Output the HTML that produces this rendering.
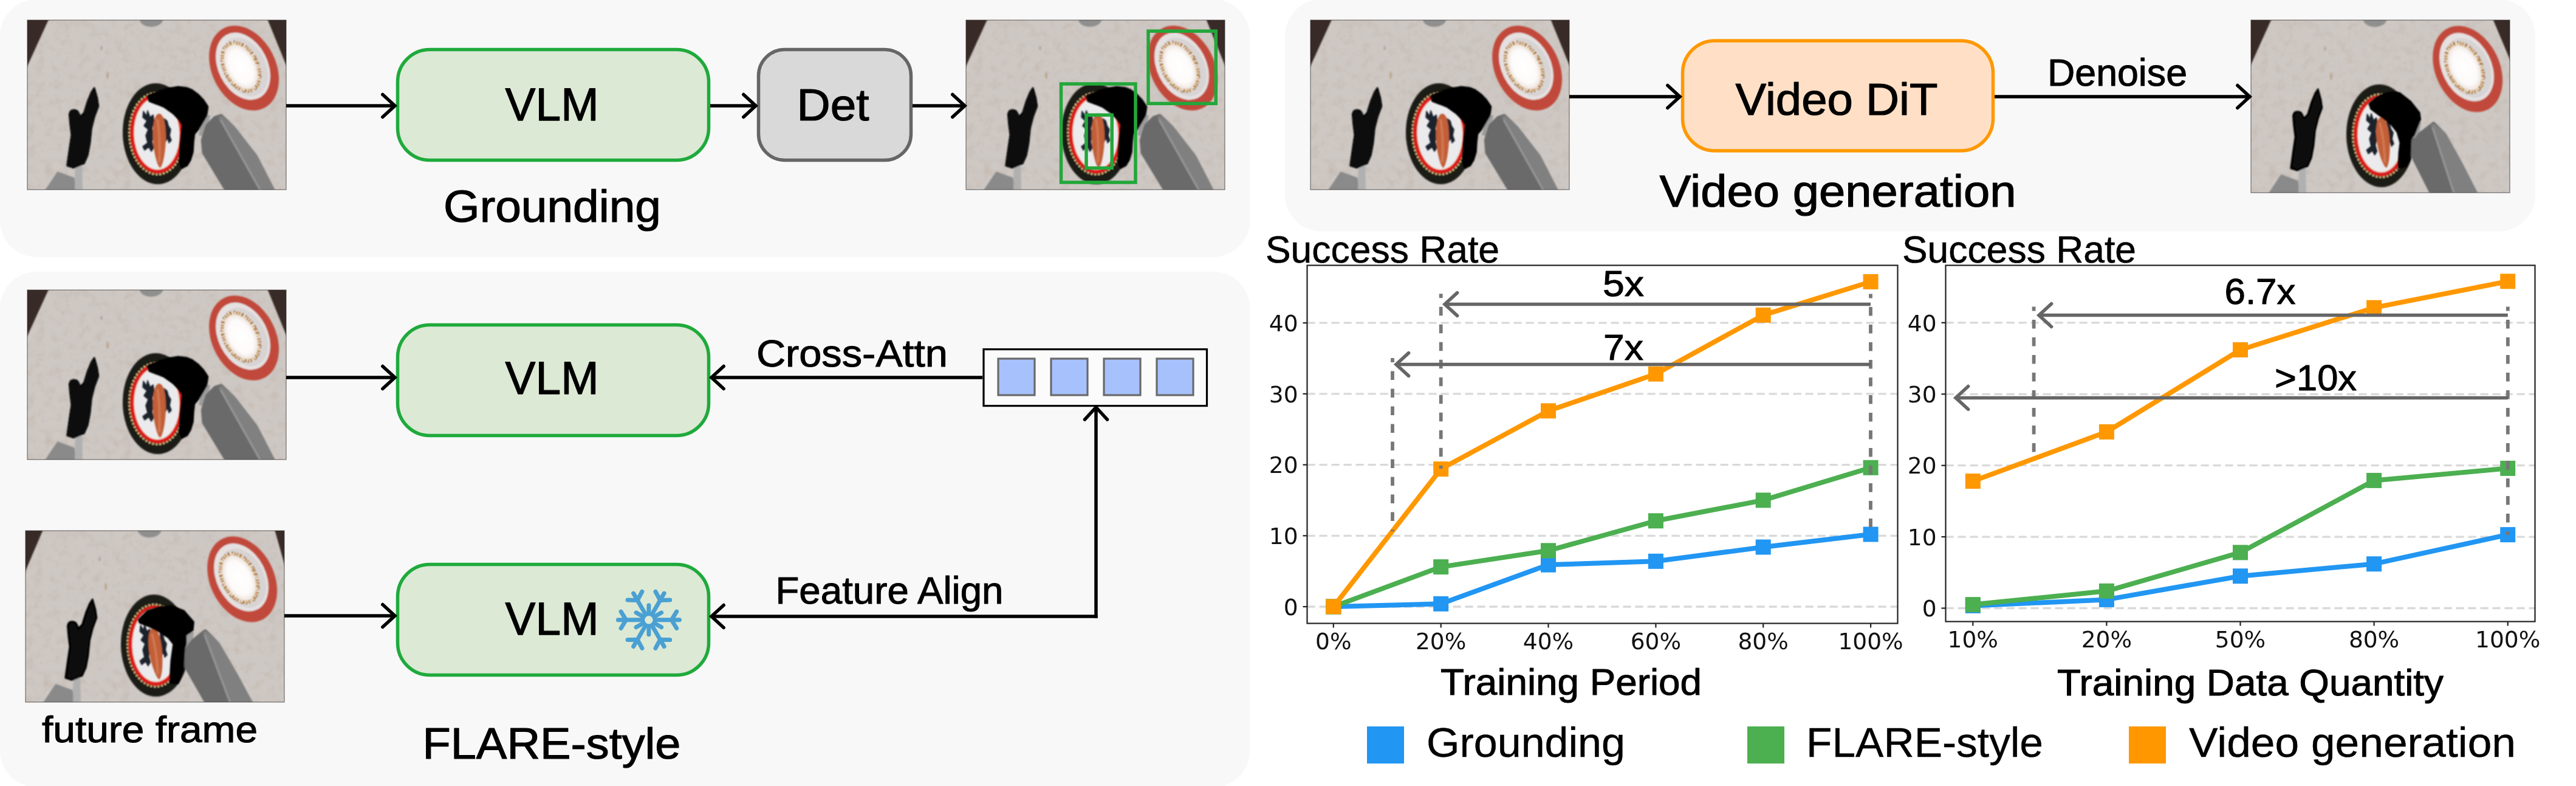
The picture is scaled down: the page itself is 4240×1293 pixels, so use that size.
<!DOCTYPE html>
<html lang="en"><head><meta charset="utf-8"><title>Figure</title>
<style>html,body{margin:0;padding:0;background:#fff}body{width:4240px;height:1293px;overflow:hidden}svg{display:block}text{white-space:pre}</style>
</head><body>
<svg width="4240" height="1293" viewBox="0 0 4240 1293">
<defs>
<filter id="soft" x="-5%" y="-5%" width="110%" height="110%"><feGaussianBlur stdDeviation="0.9"/></filter>
<filter id="grain" x="0" y="0" width="100%" height="100%">
  <feTurbulence type="fractalNoise" baseFrequency="0.07" numOctaves="3" seed="11" result="n"/>
  <feColorMatrix in="n" type="matrix" values="0 0 0 0 0.52  0 0 0 0 0.44  0 0 0 0 0.38  1.4 1.4 0 0 -1.25"/>
</filter>
<radialGradient id="glow" cx="50%" cy="50%" r="50%">
  <stop offset="0" stop-color="#ffffff"/><stop offset="0.75" stop-color="#fdfbfa"/><stop offset="1" stop-color="#efe6e0"/>
</radialGradient>
<clipPath id="cp"><rect x="0" y="0" width="426" height="279"/></clipPath>


<g id="sceneBase">
  <rect x="0" y="0" width="426" height="279" fill="#cec8c4"/>
  <rect x="0" y="0" width="426" height="279" filter="url(#grain)" opacity="0.5"/>
  <g filter="url(#soft)">
    <ellipse cx="204" cy="-1" rx="19" ry="12" fill="#8e8f8e"/>
    <ellipse cx="132" cy="91" rx="2.2" ry="6" fill="#b9a488" opacity="0.8"/>
    <ellipse cx="122" cy="46" rx="2" ry="3.5" fill="#aaa29f" opacity="0.8"/>
    <!-- red plate -->
    <g transform="translate(356.6 79) rotate(-27)">
      <ellipse rx="52.5" ry="73.5" fill="#c14a3b"/>
    </g>
    <g transform="translate(355 76) rotate(-27)">
      <ellipse rx="40.5" ry="58.5" fill="#e6e1e1"/>
      <ellipse cx="1.5" cy="2" rx="35" ry="51" fill="#d9d4d4"/>
    </g>
    <g transform="translate(351.5 77) rotate(-27)">
      <ellipse rx="29.5" ry="45" fill="#f1e7dd"/>
      <ellipse rx="27" ry="42" fill="none" stroke="#b9873f" stroke-width="5.5" stroke-dasharray="2.5 2 4 3 1.5 2.5 3 1.5"/>
      <ellipse rx="29" ry="44.5" fill="none" stroke="#8c5a2a" stroke-width="2" stroke-dasharray="2 5 3 7 1 4"/>
      <ellipse rx="23.5" ry="38.5" fill="url(#glow)"/>
    </g>
    <!-- black plate -->
    <g transform="translate(213 187) rotate(-2)">
      <ellipse rx="56" ry="83" fill="#1b1b19"/>
      <ellipse rx="45.3" ry="67" fill="none" stroke="#ecd08e" stroke-width="2.6" stroke-dasharray="3 3"/>
      <ellipse rx="44" ry="65.5" fill="#dc1f1a"/>
      <ellipse rx="37.8" ry="59.2" fill="#f3dcc8"/>
      <ellipse rx="36.5" ry="58" fill="#ebebed"/>
    </g>
    <!-- left gripper -->
    <path d="M30,281 L50,251 L76,260.5 L80,281 Z" fill="#8a8a8a" stroke="#8a8a8a" stroke-width="3" stroke-linejoin="round"/>
    <path d="M79,234 L90,230 L91,281 L78,281 Z" fill="#b0b0b0"/>
    <path d="M110.2,111.5 L115,128.4 L117,141.7 L110.2,159.8 L105.4,179.1 L103,203.3 L99.3,222.6 L93.3,235.9 L76.4,243.1 L65.5,239.5 L69.2,212.9 L72.8,188.8 L70.4,169.5 L69.2,155 Q70,148 76.4,147.7 Q82,148 83.6,151.3 L87.3,158.6 L93.3,152.6 L99.3,133.2 L105.4,118.7 Z" fill="#070707" stroke="#070707" stroke-width="2.5" stroke-linejoin="round"/>
  </g>
</g>

<g id="poseA" filter="url(#soft)"><path d="M191.0,150.0 L196.0,158.0 L198.0,149.0 L202.0,160.0 L207.0,156.0 L209.0,168.0 L205.0,178.0 L208.0,190.0 L205.0,200.0 L208.0,210.0 L204.0,216.0 L200.0,209.0 L193.0,214.0 L190.0,208.0 L198.0,202.0 L195.0,190.0 L199.0,180.0 L192.0,174.0 L197.0,166.0 L190.0,160.0 Z" fill="#1a202c" stroke="#1a202c" stroke-width="1.5" stroke-linejoin="round"/><path d="M225.0,162.0 L230.0,166.0 L232.0,174.0 L236.0,180.0 L234.0,190.0 L237.0,198.0 L233.0,202.0 L231.0,194.0 L227.0,200.0 L225.0,186.0 Z" fill="#1a202c" stroke="#1a202c" stroke-width="1.5" stroke-linejoin="round"/><g transform="translate(217 198.5) rotate(0)"><path d="M0,-44.5 C8,-44.5 11.5,-24.5 11,-4.5 C10.5,20.0 6,42.3 1.5,44.5 C-3,42.3 -9.5,17.8 -10.5,-4.5 C-11,-24.5 -8,-44.5 0,-44.5 Z" fill="#c15f39"/><path d="M-3,-35.6 C1,-13.3 1,13.3 0,35.6" stroke="#d8825a" stroke-width="4" fill="none" opacity="0.7"/></g><path d="M291.0,154.0 L300.0,158.0 L292.0,192.0 L283.0,188.0 Z" fill="#9d9d9d" stroke="#9d9d9d" stroke-width="2" stroke-linejoin="round"/><path d="M296.7,173.9 L309.6,161.0 L318.8,158.2 L339.0,177.6 L376.0,225.5 L406.0,284.0 L331.0,284.0 L291.0,218.0 L289.3,197.9 Z" fill="#6b6b6b" stroke="#6b6b6b" stroke-width="7" stroke-linejoin="round"/><path d="M319.0,161.0 L339.0,177.6 L376.0,225.5 L406.0,284.0 L388.7,284.0 Z" fill="#808080" stroke="#808080" stroke-width="7" stroke-linejoin="round"/><line x1="318" y1="164" x2="385.7" y2="284" stroke="#969696" stroke-width="3"/><path d="M199.0,125.0 L218.2,117.0 L235.0,112.5 L248.3,110.3 L262.0,112.0 L270.8,115.5 L281.0,123.0 L289.5,132.0 L296.5,142.5 L294.5,157.0 L281.5,179.0 L274.5,187.2 L273.0,200.0 L272.0,217.0 L268.0,230.0 L262.5,239.0 L254.5,243.0 L251.0,232.0 L252.0,217.0 L253.0,202.0 L256.0,172.0 L250.0,163.0 L240.0,153.0 L226.0,143.0 L214.0,138.0 L201.0,133.0 Z" fill="#060606" stroke="#060606" stroke-width="3.5" stroke-linejoin="round"/></g>
<g id="poseB" filter="url(#soft)"><path d="M191.3,152.0 L196.1,160.0 L197.9,151.0 L201.8,162.0 L206.5,158.0 L208.4,170.0 L204.6,180.0 L207.4,192.0 L204.6,202.0 L207.4,212.0 L203.7,218.0 L199.8,211.0 L193.2,216.0 L190.3,210.0 L197.9,204.0 L195.1,192.0 L198.9,182.0 L192.2,176.0 L197.0,168.0 L190.3,162.0 Z" fill="#1a202c" stroke="#1a202c" stroke-width="1.5" stroke-linejoin="round"/><path d="M223.6,164.0 L228.3,168.0 L230.2,176.0 L234.1,182.0 L232.2,192.0 L235.0,200.0 L231.2,204.0 L229.3,196.0 L225.5,202.0 L223.6,188.0 Z" fill="#1a202c" stroke="#1a202c" stroke-width="1.5" stroke-linejoin="round"/><g transform="translate(217.7 198) rotate(-5)"><path d="M0,-41 C8,-41 11.5,-22.6 11,-4.1 C10.5,18.4 6,38.9 1.5,41 C-3,38.9 -9.5,16.4 -10.5,-4.1 C-11,-22.6 -8,-41 0,-41 Z" fill="#c15f39"/><path d="M-3,-32.8 C1,-12.3 1,12.3 0,32.8" stroke="#d8825a" stroke-width="4" fill="none" opacity="0.7"/></g><path d="M269.0,161.0 L279.0,165.0 L275.0,193.0 L265.0,189.0 Z" fill="#9d9d9d" stroke="#9d9d9d" stroke-width="2" stroke-linejoin="round"/><path d="M273.0,192.0 L277.5,185.5 L300.4,168.0 L318.2,185.5 L346.2,235.4 L371.5,284.0 L300.0,284.0 L267.3,220.4 L266.0,195.5 Z" fill="#6b6b6b" stroke="#6b6b6b" stroke-width="7" stroke-linejoin="round"/><path d="M300.0,171.0 L318.2,185.5 L346.2,235.4 L371.5,284.0 L338.5,284.0 Z" fill="#808080" stroke="#808080" stroke-width="7" stroke-linejoin="round"/><line x1="299" y1="174" x2="335.5" y2="284" stroke="#969696" stroke-width="3"/><path d="M196.0,135.5 L207.0,127.0 L219.0,120.4 L232.0,118.0 L244.4,119.2 L262.2,133.0 L276.2,150.5 L277.5,160.4 L267.3,185.5 L262.0,190.5 L261.0,210.0 L259.7,225.4 L254.6,235.4 L244.4,237.9 L245.0,215.0 L247.0,198.0 L241.9,180.4 L232.0,168.0 L219.0,158.0 L198.6,143.0 Z" fill="#060606" stroke="#060606" stroke-width="5" stroke-linejoin="round"/></g>
<g id="poseC" filter="url(#soft)"><path d="M189.3,154.0 L194.1,162.0 L195.9,153.0 L199.8,164.0 L204.5,160.0 L206.4,172.0 L202.6,182.0 L205.4,194.0 L202.6,204.0 L205.4,214.0 L201.7,220.0 L197.8,213.0 L191.2,218.0 L188.3,212.0 L195.9,206.0 L193.1,194.0 L196.9,184.0 L190.2,178.0 L195.0,170.0 L188.3,164.0 Z" fill="#1a202c" stroke="#1a202c" stroke-width="1.5" stroke-linejoin="round"/><path d="M221.6,166.0 L226.3,170.0 L228.2,178.0 L232.1,184.0 L230.2,194.0 L233.0,202.0 L229.2,206.0 L227.3,198.0 L223.5,204.0 L221.6,190.0 Z" fill="#1a202c" stroke="#1a202c" stroke-width="1.5" stroke-linejoin="round"/><g transform="translate(214.3 200.5) rotate(-6)"><path d="M0,-42 C8,-42 11.5,-23.1 11,-4.2 C10.5,18.9 6,39.9 1.5,42 C-3,39.9 -9.5,16.8 -10.5,-4.2 C-11,-23.1 -8,-42 0,-42 Z" fill="#c15f39"/><path d="M-3,-33.6 C1,-12.6 1,12.6 0,33.6" stroke="#d8825a" stroke-width="4" fill="none" opacity="0.7"/></g><path d="M266.0,162.0 L276.0,166.0 L271.0,194.0 L261.0,190.0 Z" fill="#9d9d9d" stroke="#9d9d9d" stroke-width="2" stroke-linejoin="round"/><path d="M271.0,186.0 L276.7,179.2 L295.8,164.1 L316.1,184.2 L344.1,232.0 L372.5,284.0 L301.0,284.0 L265.2,222.0 L264.0,196.8 Z" fill="#6b6b6b" stroke="#6b6b6b" stroke-width="7" stroke-linejoin="round"/><path d="M296.0,167.0 L316.1,184.2 L344.1,232.0 L372.5,284.0 L341.5,284.0 Z" fill="#808080" stroke="#808080" stroke-width="7" stroke-linejoin="round"/><line x1="295" y1="170" x2="338.5" y2="284" stroke="#969696" stroke-width="3"/><path d="M187.6,145.2 L201.6,131.4 L220.0,126.0 L239.8,123.8 L260.1,131.4 L275.4,149.0 L274.1,161.6 L262.7,169.1 L262.7,184.2 L260.1,191.8 L259.0,210.0 L257.6,227.0 L250.0,247.1 L239.8,247.1 L240.0,228.0 L241.0,211.9 L244.9,184.2 L236.0,173.0 L222.0,164.1 L205.0,155.0 L188.9,149.0 Z" fill="#060606" stroke="#060606" stroke-width="5" stroke-linejoin="round"/></g></defs>
<rect width="4240" height="1293" fill="#fff"/>

<rect x="0" y="-1" width="2057.3" height="423.7" rx="60" fill="#f8f8f8"/>
<rect x="0" y="447" width="2057.3" height="848" rx="60" fill="#f8f8f8"/>
<rect x="2115" y="-1" width="2058" height="381.5" rx="60" fill="#f8f8f8"/>
<g transform="translate(45 33) scale(1.00000 1.00000)"><g clip-path="url(#cp)"><use href="#sceneBase"/><g filter="url(#soft)"><path d="M-2,-2 H35.5 L-2,80 Z" fill="#382925"/><path d="M428,-2 H395 L428,79 Z" fill="#382925"/></g><use href="#poseA"/></g><rect x="0" y="0" width="426" height="279" fill="none" stroke="#3a3432" stroke-width="1" opacity="0.8"/></g>
<g transform="translate(1590 33) scale(1.00000 1.00000)"><g clip-path="url(#cp)"><use href="#sceneBase"/><g filter="url(#soft)"><path d="M-2,-2 H35.5 L-2,80 Z" fill="#382925"/><path d="M428,-2 H395 L428,79 Z" fill="#382925"/></g><use href="#poseA"/><g fill="none" stroke="#22a73a" stroke-width="5.5"><rect x="156.5" y="105" width="122.5" height="162"/><rect x="198" y="156.2" width="42.2" height="87.2"/><rect x="300" y="18.2" width="111.3" height="119.1"/></g></g><rect x="0" y="0" width="426" height="279" fill="none" stroke="#3a3432" stroke-width="1" opacity="0.8"/></g>
<rect x="654.5" y="81.5" width="512" height="182" rx="53" fill="#dce9d5" stroke="#1faa3c" stroke-width="5.5"/>
<rect x="1248.5" y="81.5" width="251" height="182" rx="43" fill="#d9d9d9" stroke="#666" stroke-width="5.5"/>
<line x1="471" y1="174" x2="650.0" y2="174.0" stroke="#000" stroke-width="5.5"/><polyline points="629.8,155.5 650.0,174.0 629.8,192.5" fill="none" stroke="#000" stroke-width="5.5" stroke-linecap="round" stroke-linejoin="miter"/>
<line x1="1169" y1="174" x2="1244.0" y2="174.0" stroke="#000" stroke-width="5.5"/><polyline points="1223.8,155.5 1244.0,174.0 1223.8,192.5" fill="none" stroke="#000" stroke-width="5.5" stroke-linecap="round" stroke-linejoin="miter"/>
<line x1="1502" y1="174" x2="1588.0" y2="174.0" stroke="#000" stroke-width="5.5"/><polyline points="1567.8,155.5 1588.0,174.0 1567.8,192.5" fill="none" stroke="#000" stroke-width="5.5" stroke-linecap="round" stroke-linejoin="miter"/>
<text x="908.6" y="197.5" font-size="75.5" text-anchor="middle" style="font-family:'Liberation Sans',Arial,sans-serif" fill="#000" stroke="#000" stroke-width="1.25" stroke-linejoin="round" textLength="154" lengthAdjust="spacingAndGlyphs">VLM</text>
<text x="1371" y="198" font-size="74" text-anchor="middle" style="font-family:'Liberation Sans',Arial,sans-serif" fill="#000" stroke="#000" stroke-width="1.22" stroke-linejoin="round" textLength="119" lengthAdjust="spacingAndGlyphs">Det</text>
<text x="909" y="365" font-size="74" text-anchor="middle" style="font-family:'Liberation Sans',Arial,sans-serif" fill="#000" stroke="#000" stroke-width="1.22" stroke-linejoin="round" textLength="358" lengthAdjust="spacingAndGlyphs">Grounding</text>
<g transform="translate(45 477) scale(1.00000 1.00000)"><g clip-path="url(#cp)"><use href="#sceneBase"/><g filter="url(#soft)"><path d="M-2,-2 H35.5 L-2,80 Z" fill="#382925"/><path d="M428,-2 H395 L428,79 Z" fill="#382925"/></g><use href="#poseA"/></g><rect x="0" y="0" width="426" height="279" fill="none" stroke="#3a3432" stroke-width="1" opacity="0.8"/></g>
<g transform="translate(42 873) scale(1.00000 1.01075)"><g clip-path="url(#cp)"><use href="#sceneBase"/><g filter="url(#soft)"><path d="M-2,-2 H29 L-2,70 Z" fill="#382925"/><path d="M428,-2 H410 L428,61 Z" fill="#382925"/></g><use href="#poseC"/></g><rect x="0" y="0" width="426" height="279" fill="none" stroke="#3a3432" stroke-width="1" opacity="0.8"/></g>
<rect x="654.5" y="534.5" width="512" height="182" rx="53" fill="#dce9d5" stroke="#1faa3c" stroke-width="5.5"/>
<rect x="654.5" y="928.5" width="512" height="182" rx="53" fill="#dce9d5" stroke="#1faa3c" stroke-width="5.5"/>
<line x1="471" y1="621" x2="650.0" y2="621.0" stroke="#000" stroke-width="5.5"/><polyline points="629.8,602.5 650.0,621.0 629.8,639.5" fill="none" stroke="#000" stroke-width="5.5" stroke-linecap="round" stroke-linejoin="miter"/>
<line x1="468" y1="1013" x2="650.0" y2="1013.0" stroke="#000" stroke-width="5.5"/><polyline points="629.8,994.5 650.0,1013.0 629.8,1031.5" fill="none" stroke="#000" stroke-width="5.5" stroke-linecap="round" stroke-linejoin="miter"/>
<text x="908.6" y="647.5" font-size="75.5" text-anchor="middle" style="font-family:'Liberation Sans',Arial,sans-serif" fill="#000" stroke="#000" stroke-width="1.25" stroke-linejoin="round" textLength="154" lengthAdjust="spacingAndGlyphs">VLM</text>
<text x="908.6" y="1044" font-size="75.5" text-anchor="middle" style="font-family:'Liberation Sans',Arial,sans-serif" fill="#000" stroke="#000" stroke-width="1.25" stroke-linejoin="round" textLength="154" lengthAdjust="spacingAndGlyphs">VLM</text>
<rect x="1619" y="574.6" width="367.5" height="93" fill="#fbfbfb" stroke="#000" stroke-width="3.2"/>
<rect x="1643" y="590" width="60" height="60" fill="#a7c1fd" stroke="#6a6a6a" stroke-width="3.2"/>
<rect x="1730" y="590" width="60" height="60" fill="#a7c1fd" stroke="#6a6a6a" stroke-width="3.2"/>
<rect x="1817" y="590" width="60" height="60" fill="#a7c1fd" stroke="#6a6a6a" stroke-width="3.2"/>
<rect x="1904" y="590" width="60" height="60" fill="#a7c1fd" stroke="#6a6a6a" stroke-width="3.2"/>
<line x1="1617" y1="621" x2="1171.0" y2="621.0" stroke="#000" stroke-width="5.5"/><polyline points="1191.2,639.5 1171.0,621.0 1191.2,602.5" fill="none" stroke="#000" stroke-width="5.5" stroke-linecap="round" stroke-linejoin="miter"/>
<text x="1402.4" y="603" font-size="63" text-anchor="middle" style="font-family:'Liberation Sans',Arial,sans-serif" fill="#000" stroke="#000" stroke-width="1.04" stroke-linejoin="round" textLength="315" lengthAdjust="spacingAndGlyphs">Cross-Attn</text>
<polyline points="1804,1013 1804,1013" fill="none"/>
<line x1="1806.7" y1="1014" x2="1400" y2="1014" stroke="#000" stroke-width="5.5"/>
<line x1="1400" y1="1014" x2="1171.0" y2="1014.0" stroke="#000" stroke-width="5.5"/><polyline points="1191.2,1032.5 1171.0,1014.0 1191.2,995.5" fill="none" stroke="#000" stroke-width="5.5" stroke-linecap="round" stroke-linejoin="miter"/>
<line x1="1804" y1="1016.7" x2="1804.0" y2="670.0" stroke="#000" stroke-width="5.5"/><polyline points="1785.5,690.2 1804.0,670.0 1822.5,690.2" fill="none" stroke="#000" stroke-width="5.5" stroke-linecap="round" stroke-linejoin="miter"/>
<text x="1464" y="993" font-size="63" text-anchor="middle" style="font-family:'Liberation Sans',Arial,sans-serif" fill="#000" stroke="#000" stroke-width="1.04" stroke-linejoin="round" textLength="375" lengthAdjust="spacingAndGlyphs">Feature Align</text>
<text x="246.5" y="1221.3" font-size="62" text-anchor="middle" style="font-family:'Liberation Sans',Arial,sans-serif" fill="#000" stroke="#000" stroke-width="1.02" stroke-linejoin="round" textLength="355" lengthAdjust="spacingAndGlyphs">future frame</text>
<text x="908" y="1248" font-size="72.5" text-anchor="middle" style="font-family:'Liberation Sans',Arial,sans-serif" fill="#000" stroke="#000" stroke-width="1.20" stroke-linejoin="round" textLength="425" lengthAdjust="spacingAndGlyphs">FLARE-style</text>
<g transform="translate(1067.9 1019.8)" stroke="#4aa0d3" stroke-width="7" stroke-linecap="round" fill="none"><g transform="rotate(0)"><line x1="0" y1="0" x2="50.5" y2="0"/><polyline points="45.8,-13.7 37.4,0 45.8,13.7"/></g><g transform="rotate(30)"><line x1="0" y1="0" x2="24" y2="0"/></g><g transform="rotate(60)"><line x1="0" y1="0" x2="50.5" y2="0"/><polyline points="45.8,-13.7 37.4,0 45.8,13.7"/></g><g transform="rotate(90)"><line x1="0" y1="0" x2="24" y2="0"/></g><g transform="rotate(120)"><line x1="0" y1="0" x2="50.5" y2="0"/><polyline points="45.8,-13.7 37.4,0 45.8,13.7"/></g><g transform="rotate(150)"><line x1="0" y1="0" x2="24" y2="0"/></g><g transform="rotate(180)"><line x1="0" y1="0" x2="50.5" y2="0"/><polyline points="45.8,-13.7 37.4,0 45.8,13.7"/></g><g transform="rotate(210)"><line x1="0" y1="0" x2="24" y2="0"/></g><g transform="rotate(240)"><line x1="0" y1="0" x2="50.5" y2="0"/><polyline points="45.8,-13.7 37.4,0 45.8,13.7"/></g><g transform="rotate(270)"><line x1="0" y1="0" x2="24" y2="0"/></g><g transform="rotate(300)"><line x1="0" y1="0" x2="50.5" y2="0"/><polyline points="45.8,-13.7 37.4,0 45.8,13.7"/></g><g transform="rotate(330)"><line x1="0" y1="0" x2="24" y2="0"/></g><circle r="9.5" stroke-width="5.5" fill="#dce9d5"/></g>
<g transform="translate(2157 33) scale(1.00000 1.00000)"><g clip-path="url(#cp)"><use href="#sceneBase"/><g filter="url(#soft)"><path d="M-2,-2 H35.5 L-2,80 Z" fill="#382925"/><path d="M428,-2 H395 L428,79 Z" fill="#382925"/></g><use href="#poseA"/></g><rect x="0" y="0" width="426" height="279" fill="none" stroke="#3a3432" stroke-width="1" opacity="0.8"/></g>
<g transform="translate(3705 33) scale(1.00000 1.01792)"><g clip-path="url(#cp)"><use href="#sceneBase"/><g filter="url(#soft)"><path d="M-2,-2 H34 L-2,76 Z" fill="#382925"/><path d="M428,-2 H398 L428,68 Z" fill="#382925"/></g><use href="#poseB"/></g><rect x="0" y="0" width="426" height="279" fill="none" stroke="#3a3432" stroke-width="1" opacity="0.8"/></g>
<rect x="2769.5" y="67" width="511" height="181" rx="53" fill="#ffe0c6" stroke="#ff9800" stroke-width="5.5"/>
<line x1="2583" y1="159" x2="2765.0" y2="159.0" stroke="#000" stroke-width="5.5"/><polyline points="2744.8,140.5 2765.0,159.0 2744.8,177.5" fill="none" stroke="#000" stroke-width="5.5" stroke-linecap="round" stroke-linejoin="miter"/>
<line x1="3283" y1="159" x2="3703.0" y2="159.0" stroke="#000" stroke-width="5.5"/><polyline points="3682.8,140.5 3703.0,159.0 3682.8,177.5" fill="none" stroke="#000" stroke-width="5.5" stroke-linecap="round" stroke-linejoin="miter"/>
<text x="3023" y="188.5" font-size="74" text-anchor="middle" style="font-family:'Liberation Sans',Arial,sans-serif" fill="#000" stroke="#000" stroke-width="1.22" stroke-linejoin="round" textLength="333" lengthAdjust="spacingAndGlyphs">Video DiT</text>
<text x="3025" y="340.3" font-size="74" text-anchor="middle" style="font-family:'Liberation Sans',Arial,sans-serif" fill="#000" stroke="#000" stroke-width="1.22" stroke-linejoin="round" textLength="587" lengthAdjust="spacingAndGlyphs">Video generation</text>
<text x="3485" y="141" font-size="63" text-anchor="middle" style="font-family:'Liberation Sans',Arial,sans-serif" fill="#000" stroke="#000" stroke-width="1.04" stroke-linejoin="round" textLength="230" lengthAdjust="spacingAndGlyphs">Denoise</text>
<rect x="2151.5" y="436.5" width="972.0" height="589.0" fill="#fff"/>
<line x1="2151.5" y1="998.0" x2="3123.5" y2="998.0" stroke="#d9d9d9" stroke-width="3.3" stroke-dasharray="13.2 6.8"/>
<line x1="2151.5" y1="881.3" x2="3123.5" y2="881.3" stroke="#d9d9d9" stroke-width="3.3" stroke-dasharray="13.2 6.8"/>
<line x1="2151.5" y1="764.6" x2="3123.5" y2="764.6" stroke="#d9d9d9" stroke-width="3.3" stroke-dasharray="13.2 6.8"/>
<line x1="2151.5" y1="647.9" x2="3123.5" y2="647.9" stroke="#d9d9d9" stroke-width="3.3" stroke-dasharray="13.2 6.8"/>
<line x1="2151.5" y1="531.2" x2="3123.5" y2="531.2" stroke="#d9d9d9" stroke-width="3.3" stroke-dasharray="13.2 6.8"/>
<rect x="3202.5" y="436.5" width="970.0" height="586.0" fill="#fff"/>
<line x1="3202.5" y1="1000.5" x2="4172.5" y2="1000.5" stroke="#d9d9d9" stroke-width="3.3" stroke-dasharray="13.2 6.8"/>
<line x1="3202.5" y1="883.1" x2="4172.5" y2="883.1" stroke="#d9d9d9" stroke-width="3.3" stroke-dasharray="13.2 6.8"/>
<line x1="3202.5" y1="765.7" x2="4172.5" y2="765.7" stroke="#d9d9d9" stroke-width="3.3" stroke-dasharray="13.2 6.8"/>
<line x1="3202.5" y1="648.3" x2="4172.5" y2="648.3" stroke="#d9d9d9" stroke-width="3.3" stroke-dasharray="13.2 6.8"/>
<line x1="3202.5" y1="530.9" x2="4172.5" y2="530.9" stroke="#d9d9d9" stroke-width="3.3" stroke-dasharray="13.2 6.8"/>
<polyline points="2194.8,998.0 2371.7,993.3 2548.5,929.1 2725.4,923.3 2902.2,900.0 3079.1,879.0" fill="none" stroke="#2196f3" stroke-width="8" stroke-linejoin="round"/>
<rect x="2182.3" y="985.5" width="25" height="25" fill="#2196f3"/>
<rect x="2359.2" y="980.8" width="25" height="25" fill="#2196f3"/>
<rect x="2536.0" y="916.6" width="25" height="25" fill="#2196f3"/>
<rect x="2712.9" y="910.8" width="25" height="25" fill="#2196f3"/>
<rect x="2889.7" y="887.5" width="25" height="25" fill="#2196f3"/>
<rect x="3066.6" y="866.5" width="25" height="25" fill="#2196f3"/>
<polyline points="2194.8,998.0 2371.7,932.6 2548.5,905.8 2725.4,856.8 2902.2,822.9 3079.1,769.3" fill="none" stroke="#4caf50" stroke-width="8" stroke-linejoin="round"/>
<rect x="2182.3" y="985.5" width="25" height="25" fill="#4caf50"/>
<rect x="2359.2" y="920.1" width="25" height="25" fill="#4caf50"/>
<rect x="2536.0" y="893.3" width="25" height="25" fill="#4caf50"/>
<rect x="2712.9" y="844.3" width="25" height="25" fill="#4caf50"/>
<rect x="2889.7" y="810.4" width="25" height="25" fill="#4caf50"/>
<rect x="3066.6" y="756.8" width="25" height="25" fill="#4caf50"/>
<polyline points="2194.8,998.0 2371.7,771.6 2548.5,675.9 2725.4,615.2 2902.2,518.4 3079.1,463.5" fill="none" stroke="#ff9800" stroke-width="8" stroke-linejoin="round"/>
<rect x="2182.3" y="985.5" width="25" height="25" fill="#ff9800"/>
<rect x="2359.2" y="759.1" width="25" height="25" fill="#ff9800"/>
<rect x="2536.0" y="663.4" width="25" height="25" fill="#ff9800"/>
<rect x="2712.9" y="602.7" width="25" height="25" fill="#ff9800"/>
<rect x="2889.7" y="505.9" width="25" height="25" fill="#ff9800"/>
<rect x="3066.6" y="451.0" width="25" height="25" fill="#ff9800"/>
<polyline points="3247.3,996.4 3467.4,986.4 3687.5,947.7 3907.6,927.7 4127.7,879.6" fill="none" stroke="#2196f3" stroke-width="8" stroke-linejoin="round"/>
<rect x="3234.8" y="983.9" width="25" height="25" fill="#2196f3"/>
<rect x="3454.9" y="973.9" width="25" height="25" fill="#2196f3"/>
<rect x="3675.0" y="935.2" width="25" height="25" fill="#2196f3"/>
<rect x="3895.1" y="915.2" width="25" height="25" fill="#2196f3"/>
<rect x="4115.2" y="867.1" width="25" height="25" fill="#2196f3"/>
<polyline points="3247.3,994.6 3467.4,972.3 3687.5,908.9 3907.6,790.4 4127.7,770.4" fill="none" stroke="#4caf50" stroke-width="8" stroke-linejoin="round"/>
<rect x="3234.8" y="982.1" width="25" height="25" fill="#4caf50"/>
<rect x="3454.9" y="959.8" width="25" height="25" fill="#4caf50"/>
<rect x="3675.0" y="896.4" width="25" height="25" fill="#4caf50"/>
<rect x="3895.1" y="777.9" width="25" height="25" fill="#4caf50"/>
<rect x="4115.2" y="757.9" width="25" height="25" fill="#4caf50"/>
<polyline points="3247.3,791.5 3467.4,710.5 3687.5,575.5 3907.6,506.2 4127.7,462.8" fill="none" stroke="#ff9800" stroke-width="8" stroke-linejoin="round"/>
<rect x="3234.8" y="779.0" width="25" height="25" fill="#ff9800"/>
<rect x="3454.9" y="698.0" width="25" height="25" fill="#ff9800"/>
<rect x="3675.0" y="563.0" width="25" height="25" fill="#ff9800"/>
<rect x="3895.1" y="493.7" width="25" height="25" fill="#ff9800"/>
<rect x="4115.2" y="450.3" width="25" height="25" fill="#ff9800"/>
<line x1="2371.7" y1="483.2" x2="2371.7" y2="771" stroke="#777" stroke-width="5.8" stroke-dasharray="14.5 14.5" stroke-dashoffset="7.5"/>
<line x1="2292" y1="588.9" x2="2292" y2="874" stroke="#777" stroke-width="5.8" stroke-dasharray="14.5 14.5" stroke-dashoffset="7.5"/>
<line x1="3079" y1="483.4" x2="3079" y2="879" stroke="#777" stroke-width="5.8" stroke-dasharray="14.5 14.5" stroke-dashoffset="7.5"/>
<line x1="3079" y1="500.5" x2="2378.0" y2="500.5" stroke="#666" stroke-width="5.5"/><polyline points="2398.6,519.4 2378.0,500.5 2398.6,481.6" fill="none" stroke="#666" stroke-width="5.5" stroke-linecap="round" stroke-linejoin="miter"/>
<line x1="3079" y1="599.5" x2="2298.0" y2="599.5" stroke="#666" stroke-width="5.5"/><polyline points="2318.6,618.4 2298.0,599.5 2318.6,580.6" fill="none" stroke="#666" stroke-width="5.5" stroke-linecap="round" stroke-linejoin="miter"/>
<text x="2672" y="487" font-size="60" text-anchor="middle" style="font-family:'Liberation Sans',Arial,sans-serif" fill="#000" stroke="#000" stroke-width="0.99" stroke-linejoin="round" textLength="68" lengthAdjust="spacingAndGlyphs">5x</text>
<text x="2672" y="592" font-size="60" text-anchor="middle" style="font-family:'Liberation Sans',Arial,sans-serif" fill="#000" stroke="#000" stroke-width="0.99" stroke-linejoin="round" textLength="66" lengthAdjust="spacingAndGlyphs">7x</text>
<line x1="3347.6" y1="504.6" x2="3347.6" y2="755" stroke="#777" stroke-width="5.8" stroke-dasharray="14.5 14.5" stroke-dashoffset="7.5"/>
<line x1="4127.8" y1="504.6" x2="4127.8" y2="880" stroke="#777" stroke-width="5.8" stroke-dasharray="14.5 14.5" stroke-dashoffset="7.5"/>
<line x1="4127.8" y1="518.6" x2="3356.0" y2="518.6" stroke="#666" stroke-width="5.5"/><polyline points="3376.6,537.5 3356.0,518.6 3376.6,499.7" fill="none" stroke="#666" stroke-width="5.5" stroke-linecap="round" stroke-linejoin="miter"/>
<line x1="4127.8" y1="654.4" x2="3219.0" y2="654.4" stroke="#666" stroke-width="5.5"/><polyline points="3239.6,673.3 3219.0,654.4 3239.6,635.5" fill="none" stroke="#666" stroke-width="5.5" stroke-linecap="round" stroke-linejoin="miter"/>
<text x="3720" y="500" font-size="60" text-anchor="middle" style="font-family:'Liberation Sans',Arial,sans-serif" fill="#000" stroke="#000" stroke-width="0.99" stroke-linejoin="round" textLength="117" lengthAdjust="spacingAndGlyphs">6.7x</text>
<text x="3811.6" y="642" font-size="60" text-anchor="middle" style="font-family:'Liberation Sans',Arial,sans-serif" fill="#000" stroke="#000" stroke-width="0.99" stroke-linejoin="round" textLength="135" lengthAdjust="spacingAndGlyphs">&gt;10x</text>
<rect x="2151.5" y="436.5" width="972.0" height="589.0" fill="none" stroke="#222" stroke-width="2.2"/>
<line x1="2194.8" y1="1025.5" x2="2194.8" y2="1032.5" stroke="#222" stroke-width="2.2"/>
<text x="2194.8" y="1067.9" font-size="37.5" text-anchor="middle" style="font-family:'DejaVu Sans','Liberation Sans',sans-serif" fill="#111">0%</text>
<line x1="2371.7" y1="1025.5" x2="2371.7" y2="1032.5" stroke="#222" stroke-width="2.2"/>
<text x="2371.7" y="1067.9" font-size="37.5" text-anchor="middle" style="font-family:'DejaVu Sans','Liberation Sans',sans-serif" fill="#111">20%</text>
<line x1="2548.5" y1="1025.5" x2="2548.5" y2="1032.5" stroke="#222" stroke-width="2.2"/>
<text x="2548.5" y="1067.9" font-size="37.5" text-anchor="middle" style="font-family:'DejaVu Sans','Liberation Sans',sans-serif" fill="#111">40%</text>
<line x1="2725.4" y1="1025.5" x2="2725.4" y2="1032.5" stroke="#222" stroke-width="2.2"/>
<text x="2725.4" y="1067.9" font-size="37.5" text-anchor="middle" style="font-family:'DejaVu Sans','Liberation Sans',sans-serif" fill="#111">60%</text>
<line x1="2902.2" y1="1025.5" x2="2902.2" y2="1032.5" stroke="#222" stroke-width="2.2"/>
<text x="2902.2" y="1067.9" font-size="37.5" text-anchor="middle" style="font-family:'DejaVu Sans','Liberation Sans',sans-serif" fill="#111">80%</text>
<line x1="3079.1" y1="1025.5" x2="3079.1" y2="1032.5" stroke="#222" stroke-width="2.2"/>
<text x="3079.1" y="1067.9" font-size="37.5" text-anchor="middle" style="font-family:'DejaVu Sans','Liberation Sans',sans-serif" fill="#111">100%</text>
<line x1="2144.5" y1="998.0" x2="2151.5" y2="998.0" stroke="#222" stroke-width="2.2"/>
<text x="2136.5" y="1011.7" font-size="37.5" text-anchor="end" style="font-family:'DejaVu Sans','Liberation Sans',sans-serif" fill="#111">0</text>
<line x1="2144.5" y1="881.3" x2="2151.5" y2="881.3" stroke="#222" stroke-width="2.2"/>
<text x="2136.5" y="895.0" font-size="37.5" text-anchor="end" style="font-family:'DejaVu Sans','Liberation Sans',sans-serif" fill="#111">10</text>
<line x1="2144.5" y1="764.6" x2="2151.5" y2="764.6" stroke="#222" stroke-width="2.2"/>
<text x="2136.5" y="778.3" font-size="37.5" text-anchor="end" style="font-family:'DejaVu Sans','Liberation Sans',sans-serif" fill="#111">20</text>
<line x1="2144.5" y1="647.9" x2="2151.5" y2="647.9" stroke="#222" stroke-width="2.2"/>
<text x="2136.5" y="661.6" font-size="37.5" text-anchor="end" style="font-family:'DejaVu Sans','Liberation Sans',sans-serif" fill="#111">30</text>
<line x1="2144.5" y1="531.2" x2="2151.5" y2="531.2" stroke="#222" stroke-width="2.2"/>
<text x="2136.5" y="544.9" font-size="37.5" text-anchor="end" style="font-family:'DejaVu Sans','Liberation Sans',sans-serif" fill="#111">40</text>
<rect x="3202.5" y="436.5" width="970.0" height="586.0" fill="none" stroke="#222" stroke-width="2.2"/>
<line x1="3247.3" y1="1022.5" x2="3247.3" y2="1029.5" stroke="#222" stroke-width="2.2"/>
<text x="3247.3" y="1064.9" font-size="37.5" text-anchor="middle" style="font-family:'DejaVu Sans','Liberation Sans',sans-serif" fill="#111">10%</text>
<line x1="3467.4" y1="1022.5" x2="3467.4" y2="1029.5" stroke="#222" stroke-width="2.2"/>
<text x="3467.4" y="1064.9" font-size="37.5" text-anchor="middle" style="font-family:'DejaVu Sans','Liberation Sans',sans-serif" fill="#111">20%</text>
<line x1="3687.5" y1="1022.5" x2="3687.5" y2="1029.5" stroke="#222" stroke-width="2.2"/>
<text x="3687.5" y="1064.9" font-size="37.5" text-anchor="middle" style="font-family:'DejaVu Sans','Liberation Sans',sans-serif" fill="#111">50%</text>
<line x1="3907.6" y1="1022.5" x2="3907.6" y2="1029.5" stroke="#222" stroke-width="2.2"/>
<text x="3907.6" y="1064.9" font-size="37.5" text-anchor="middle" style="font-family:'DejaVu Sans','Liberation Sans',sans-serif" fill="#111">80%</text>
<line x1="4127.7" y1="1022.5" x2="4127.7" y2="1029.5" stroke="#222" stroke-width="2.2"/>
<text x="4127.7" y="1064.9" font-size="37.5" text-anchor="middle" style="font-family:'DejaVu Sans','Liberation Sans',sans-serif" fill="#111">100%</text>
<line x1="3195.5" y1="1000.5" x2="3202.5" y2="1000.5" stroke="#222" stroke-width="2.2"/>
<text x="3187.5" y="1014.2" font-size="37.5" text-anchor="end" style="font-family:'DejaVu Sans','Liberation Sans',sans-serif" fill="#111">0</text>
<line x1="3195.5" y1="883.1" x2="3202.5" y2="883.1" stroke="#222" stroke-width="2.2"/>
<text x="3187.5" y="896.8" font-size="37.5" text-anchor="end" style="font-family:'DejaVu Sans','Liberation Sans',sans-serif" fill="#111">10</text>
<line x1="3195.5" y1="765.7" x2="3202.5" y2="765.7" stroke="#222" stroke-width="2.2"/>
<text x="3187.5" y="779.4" font-size="37.5" text-anchor="end" style="font-family:'DejaVu Sans','Liberation Sans',sans-serif" fill="#111">20</text>
<line x1="3195.5" y1="648.3" x2="3202.5" y2="648.3" stroke="#222" stroke-width="2.2"/>
<text x="3187.5" y="662.0" font-size="37.5" text-anchor="end" style="font-family:'DejaVu Sans','Liberation Sans',sans-serif" fill="#111">30</text>
<line x1="3195.5" y1="530.9" x2="3202.5" y2="530.9" stroke="#222" stroke-width="2.2"/>
<text x="3187.5" y="544.6" font-size="37.5" text-anchor="end" style="font-family:'DejaVu Sans','Liberation Sans',sans-serif" fill="#111">40</text>
<text x="2083" y="432" font-size="63" text-anchor="start" style="font-family:'Liberation Sans',Arial,sans-serif" fill="#000" stroke="#000" stroke-width="0.60" stroke-linejoin="round" textLength="385" lengthAdjust="spacingAndGlyphs">Success Rate</text>
<text x="3131" y="432" font-size="63" text-anchor="start" style="font-family:'Liberation Sans',Arial,sans-serif" fill="#000" stroke="#000" stroke-width="0.60" stroke-linejoin="round" textLength="385" lengthAdjust="spacingAndGlyphs">Success Rate</text>
<text x="2586" y="1143" font-size="62" text-anchor="middle" style="font-family:'Liberation Sans',Arial,sans-serif" fill="#000" stroke="#000" stroke-width="1.02" stroke-linejoin="round" textLength="430" lengthAdjust="spacingAndGlyphs">Training Period</text>
<text x="3704" y="1144" font-size="62" text-anchor="middle" style="font-family:'Liberation Sans',Arial,sans-serif" fill="#000" stroke="#000" stroke-width="1.02" stroke-linejoin="round" textLength="636" lengthAdjust="spacingAndGlyphs">Training Data Quantity</text>
<rect x="2250" y="1195" width="61" height="61" fill="#2196f3"/>
<rect x="2876" y="1195" width="61" height="61" fill="#4caf50"/>
<rect x="3504" y="1195" width="61" height="61" fill="#ff9800"/>
<text x="2348" y="1244.5" font-size="69" text-anchor="start" style="font-family:'Liberation Sans',Arial,sans-serif" fill="#000" stroke="#000" stroke-width="0.45" stroke-linejoin="round" textLength="327" lengthAdjust="spacingAndGlyphs">Grounding</text>
<text x="2973" y="1244.5" font-size="69" text-anchor="start" style="font-family:'Liberation Sans',Arial,sans-serif" fill="#000" stroke="#000" stroke-width="0.45" stroke-linejoin="round" textLength="390" lengthAdjust="spacingAndGlyphs">FLARE-style</text>
<text x="3603" y="1244.5" font-size="69" text-anchor="start" style="font-family:'Liberation Sans',Arial,sans-serif" fill="#000" stroke="#000" stroke-width="0.45" stroke-linejoin="round" textLength="538" lengthAdjust="spacingAndGlyphs">Video generation</text>
</svg></body></html>
